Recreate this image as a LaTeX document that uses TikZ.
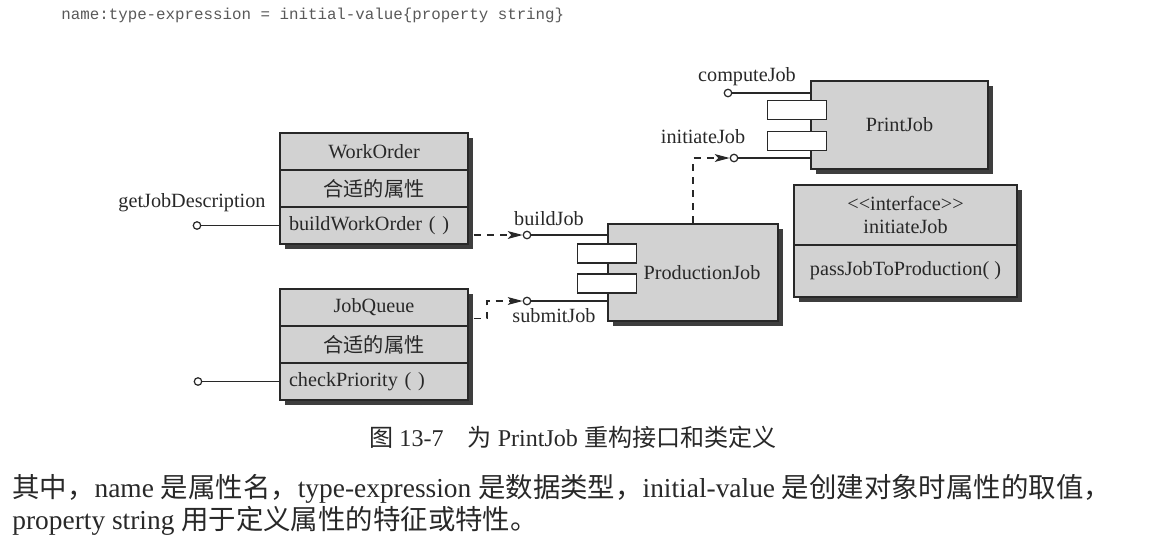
\documentclass[tikz,border=0pt]{standalone}
\usepackage{fontspec}
\setmainfont{Liberation Serif}
\setmonofont{Liberation Mono}
\newfontfamily\cjk{Noto Sans CJK SC}
\usetikzlibrary{arrows.meta, shadows, calc, positioning}

\definecolor{boxgray}{RGB}{210,210,210}
\definecolor{shadegray}{RGB}{62,62,62}
\definecolor{inkgray}{RGB}{40,40,40}

\tikzset{
  classrow/.style={draw=inkgray, line width=0.8pt, fill=boxgray, text=inkgray,
    minimum width=3.76cm, minimum height=0.74cm, inner sep=0pt,
    drop shadow={shadow xshift=2.8pt, shadow yshift=-2.8pt, fill=shadegray, opacity=1}},
  oprow/.style={classrow, text width=3.4cm, align=left},
  compbox/.style={classrow, minimum width=3.4cm, minimum height=1.94cm},
  tabbox/.style={draw=inkgray, fill=white, line width=0.8pt,
    minimum width=1.18cm, minimum height=0.38cm, inner sep=0pt},
  lolli/.style={circle, draw=inkgray, fill=white, line width=0.7pt,
    minimum size=0.15cm, inner sep=0pt},
  lbl/.style={inner sep=1pt, text=inkgray},
  wire/.style={draw=inkgray, line width=0.7pt},
  dep/.style={wire, dash pattern=on 4pt off 3.5pt, -{Stealth[length=8.5pt, width=4.5pt, inset=2pt]}}
}

\begin{document}
\begin{tikzpicture}[x=0.02cm, y=-0.02cm, font=\fontsize{11.5}{13}\selectfont]
  \useasboundingbox (0,0) rectangle (1149,552);

  % syntax line
  \node[anchor=west, inner sep=0pt, text=gray!70!black, font=\ttfamily\fontsize{9}{11}\selectfont]
    (syntax) at (61,15) {name:type-expression = initial-value\{property string\}};

  % classes
  \node[classrow] (wo1) at (374,151.5) {WorkOrder};
  \node[classrow] (wo2) at (374,188.5) {\cjk 合适的属性};
  \node[oprow]    (wo3) at (374,225.5) {buildWorkOrder ( )};

  \node[classrow] (jq1) at (374,307.5) {JobQueue};
  \node[classrow] (jq2) at (374,344.5) {\cjk 合适的属性};
  \node[oprow]    (jq3) at (374,381.5) {checkPriority ( )};

  \node[classrow, minimum width=4.46cm, minimum height=1.2cm, align=center]
    (if1) at (905.5,215) {<{}<interface>{}>\\initiateJob};
  \node[classrow, minimum width=4.46cm, minimum height=1.04cm]
    (if2) at (905.5,271) {passJobToProduction( )};

  % components
  \node[compbox] (pj) at (693,272.5) {};
  \node[lbl] (pjt) at ($(pj.center)+(9,0)$) {ProductionJob};
  \node[tabbox] (pjtab1) at (607,253.5) {};
  \node[tabbox] (pjtab2) at (607,283.5) {};

  \node[compbox, minimum width=3.54cm, minimum height=1.76cm] (prj) at (899.5,125) {};
  \node[lbl] (prjt) at (prj.center) {PrintJob};
  \node[tabbox] (prjtab1) at (797,110) {};
  \node[tabbox] (prjtab2) at (797,141) {};

  % interfaces
  \node[lolli] (gjd) at (197,225.5) {};
  \node[lolli] (cp) at (198,381.5) {};
  \node[lolli] (bj) at (527,235) {};
  \node[lolli] (sj) at (527,301) {};
  \node[lolli] (cj) at (728,93) {};
  \node[lolli] (ij) at (734,158) {};

  \node[lbl] (gjdl) at (192,203) {getJobDescription};
  \node[lbl] (bjl) at (549,219) {buildJob};
  \node[lbl] (sjl) at (554,316) {submitJob};
  \node[lbl] (cjl) at (747,77) {computeJob};
  \node[lbl] (ijl) at (703,137) {initiateJob};

  \draw[wire] (gjd) -- (gjd -| wo3.west);
  \draw[wire] (cp) -- (cp -| jq3.west);
  \draw[wire] (bj) -- (bj -| pj.west);
  \draw[wire] (sj) -- (sj -| pj.west);
  \draw[wire] (cj) -- (cj -| prj.west);
  \draw[wire] (ij) -- (ij -| prj.west);

  % dependencies
  \draw[dep] ($(wo3.east |- bj)+(5,0)$) -- (bj);
  \draw[dep] ($(jq1.east)+(5,11)$) -| ($(sj)+(-40,0)$) -- (sj);
  \draw[dep] (pj.north) |- (ij);

  % caption and text
  \node[text=inkgray, font=\fontsize{13.7}{16}\selectfont]
    (cap) at (573,437) {{\cjk 图} 13-7\quad{\cjk 为} PrintJob {\cjk 重构接口和类定义}};
  \node[anchor=base west, inner sep=0pt, text=inkgray, font=\fontsize{15.6}{18}\selectfont]
    (body1) at (12,497) {{\cjk 其中，}name {\cjk 是属性名，}type-expression {\cjk 是数据类型，}initial-value {\cjk 是创建对象时属性的取值，}};
  \node[anchor=base west, inner sep=0pt, text=inkgray, font=\fontsize{15.6}{18}\selectfont]
    (body2) at (12,529) {property string {\cjk 用于定义属性的特征或特性。}};
\end{tikzpicture}
\end{document}
